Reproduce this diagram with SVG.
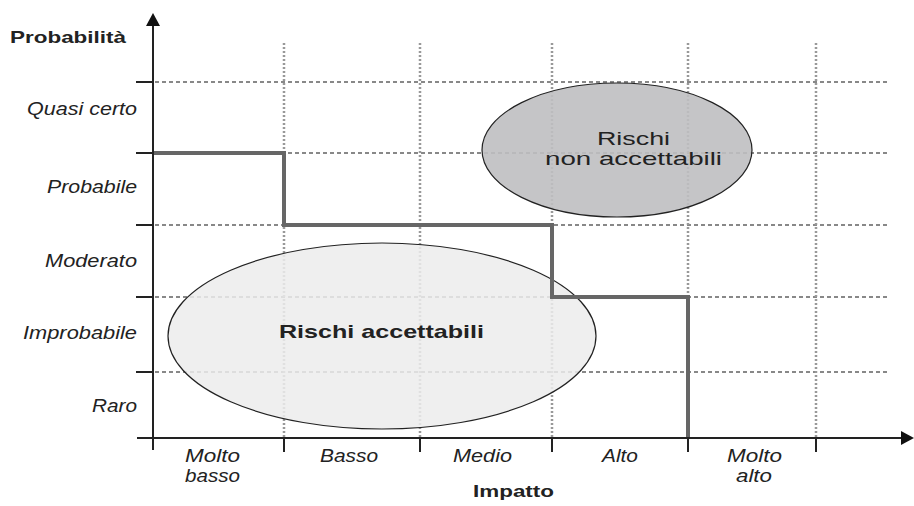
<svg xmlns="http://www.w3.org/2000/svg" width="914" height="506" viewBox="0 0 914 506">
<defs>
<style>
.lbl{font-family:"Liberation Sans",Arial,sans-serif;font-style:italic;font-size:18px;fill:#222}
.ttl{font-family:"Liberation Sans",Arial,sans-serif;font-weight:bold;font-size:17px;fill:#222}
.in{font-family:"Liberation Sans",Arial,sans-serif;font-size:18.5px;fill:#222}
.hg{stroke:#888;stroke-width:2;stroke-dasharray:4 3;fill:none}
.vg{stroke:#999;stroke-width:2.5;stroke-dasharray:2 2;fill:none}
.ax{stroke:#222;stroke-width:2;fill:none}
</style>
</defs>
<rect width="914" height="506" fill="#fff"/>
<g id="grid">
<line class="hg" x1="155" y1="82" x2="887" y2="82"/>
<line class="hg" x1="155" y1="153" x2="887" y2="153"/>
<line class="hg" x1="155" y1="225" x2="887" y2="225"/>
<line class="hg" x1="155" y1="297" x2="887" y2="297"/>
<line class="hg" x1="155" y1="372" x2="887" y2="372"/>
<line class="vg" x1="284" y1="43" x2="284" y2="438"/>
<line class="vg" x1="420" y1="43" x2="420" y2="438"/>
<line class="vg" x1="552" y1="43" x2="552" y2="438"/>
<line class="vg" x1="688" y1="43" x2="688" y2="438"/>
<line class="vg" x1="816" y1="43" x2="816" y2="438"/>
</g>
<g id="accettabili">
<ellipse cx="382" cy="336" rx="214" ry="93" fill="#ececec" fill-opacity="0.85" stroke="#222" stroke-width="1.2"/>
<text class="in" x="279" y="338" style="font-weight:bold" textLength="205" lengthAdjust="spacingAndGlyphs">Rischi accettabili</text>
</g>
<g id="non-accettabili">
<ellipse cx="617" cy="150" rx="135" ry="67" fill="#bfbfc1" fill-opacity="0.9" stroke="#222" stroke-width="1.2"/>
<text class="in" x="597" y="145" textLength="73" lengthAdjust="spacingAndGlyphs">Rischi</text>
<text class="in" x="545" y="165" textLength="177" lengthAdjust="spacingAndGlyphs">non accettabili</text>
</g>
<g id="soglia">
<polyline points="153,153 284,153 284,225 552,225 552,297 688,297 688,438" fill="none" stroke="#666" stroke-width="4"/>
</g>
<g id="axes">
<line class="ax" x1="153" y1="450" x2="153" y2="22"/>
<polygon points="153,13 146,26 160,26" fill="#111"/>
<line class="ax" x1="137" y1="438" x2="902" y2="438"/>
<polygon points="914,438 901,431 901,445" fill="#111"/>
<line class="ax" x1="136" y1="82" x2="153" y2="82"/>
<line class="ax" x1="136" y1="153" x2="153" y2="153"/>
<line class="ax" x1="136" y1="225" x2="153" y2="225"/>
<line class="ax" x1="136" y1="297" x2="153" y2="297"/>
<line class="ax" x1="136" y1="372" x2="153" y2="372"/>
<line class="ax" x1="284" y1="438" x2="284" y2="452"/>
<line class="ax" x1="420" y1="438" x2="420" y2="452"/>
<line class="ax" x1="552" y1="438" x2="552" y2="452"/>
<line class="ax" x1="688" y1="438" x2="688" y2="452"/>
<line class="ax" x1="816" y1="438" x2="816" y2="452"/>
</g>
<g id="labels">
<text class="ttl" x="10" y="43" textLength="116" lengthAdjust="spacingAndGlyphs">Probabilità</text>
<text class="lbl" x="27" y="115" textLength="110" lengthAdjust="spacingAndGlyphs">Quasi certo</text>
<text class="lbl" x="47" y="193" textLength="90" lengthAdjust="spacingAndGlyphs">Probabile</text>
<text class="lbl" x="45" y="267" textLength="92" lengthAdjust="spacingAndGlyphs">Moderato</text>
<text class="lbl" x="23" y="339" textLength="114" lengthAdjust="spacingAndGlyphs">Improbabile</text>
<text class="lbl" x="92" y="412" textLength="45" lengthAdjust="spacingAndGlyphs">Raro</text>
<text class="lbl" x="185" y="462" textLength="55" lengthAdjust="spacingAndGlyphs">Molto</text>
<text class="lbl" x="185" y="482" textLength="55" lengthAdjust="spacingAndGlyphs">basso</text>
<text class="lbl" x="320" y="462" textLength="58" lengthAdjust="spacingAndGlyphs">Basso</text>
<text class="lbl" x="453" y="462" textLength="59" lengthAdjust="spacingAndGlyphs">Medio</text>
<text class="lbl" x="602" y="462" textLength="36" lengthAdjust="spacingAndGlyphs">Alto</text>
<text class="lbl" x="727" y="462" textLength="55" lengthAdjust="spacingAndGlyphs">Molto</text>
<text class="lbl" x="736" y="482" textLength="36" lengthAdjust="spacingAndGlyphs">alto</text>
<text class="ttl" x="473" y="497" textLength="81" lengthAdjust="spacingAndGlyphs">Impatto</text>
</g>
</svg>
